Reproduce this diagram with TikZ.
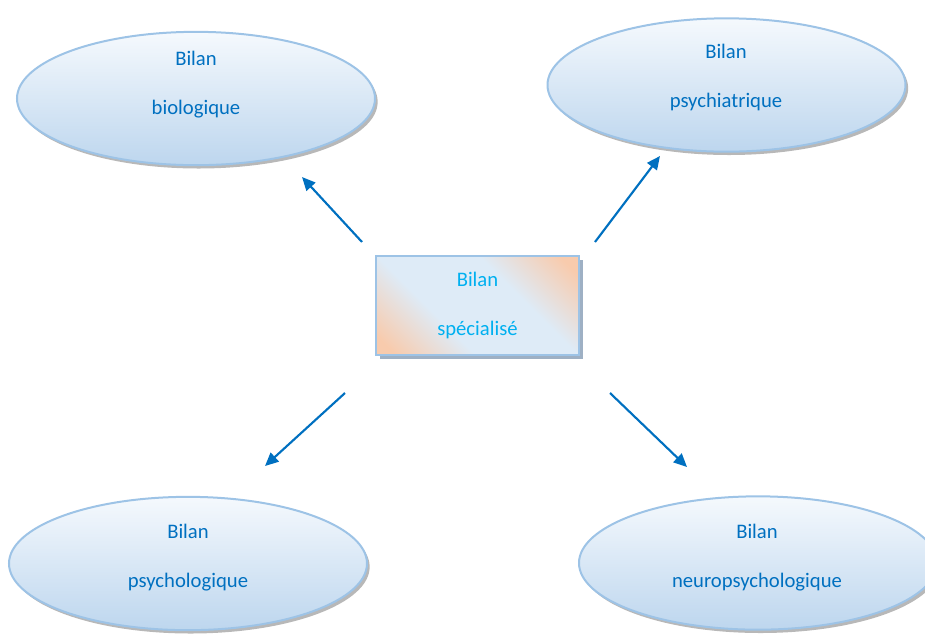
\documentclass[tikz,border=0pt]{standalone}
\usepackage{fontspec}
\setmainfont{Carlito}
\usetikzlibrary{arrows.meta, positioning, shapes.geometric, shadows}

\definecolor{bilanblue}{HTML}{0070C0}
\definecolor{bilancyan}{HTML}{00B0F0}
\definecolor{rimblue}{HTML}{9DC3E6}
\definecolor{paleblue}{HTML}{F5F9FD}
\definecolor{deepblue}{HTML}{BDD6EE}
\definecolor{boxblue}{HTML}{DEEBF7}
\definecolor{peach}{HTML}{F8CBAD}
\definecolor{shadowgrey}{HTML}{93A7BE}

\pgfdeclarehorizontalshading{peachband}{100bp}{
  color(0bp)=(peach); color(19bp)=(peach); color(38bp)=(boxblue);
  color(62bp)=(boxblue); color(81bp)=(peach); color(100bp)=(peach)}

\tikzset{
  bilan/.style={ellipse, draw=rimblue, line width=1.5pt, top color=paleblue,
    bottom color=deepblue, minimum width=268.5pt, minimum height=100pt,
    drop shadow={shadow xshift=2pt, shadow yshift=-2.5pt, fill=gray!70, opacity=0.8}},
  label/.style={align=center, text=bilanblue, font=\fontsize{15.5pt}{36.75pt}\selectfont},
  link/.style={-{Triangle[length=10pt, width=9pt]}, line width=1.6pt, draw=bilanblue}
}

\begin{document}
\begin{tikzpicture}[x=0.75pt, y=-0.75pt]
    \useasboundingbox (0,0) rectangle (925,637);

    % Central box
    \node[draw=rimblue, line width=1.5pt, shading=peachband, shading angle=45,
      minimum width=152pt, minimum height=74pt,
      drop shadow={shadow xshift=3pt, shadow yshift=-3pt, fill=shadowgrey, opacity=0.9}]
      (spec) at (477.5,305.5) {};
    \node[label, text=bilancyan] (spect) at (477.5,305.5) {Bilan\\spécialisé};

    % Ellipses
    \node[bilan] (bio) at (196,98.5) {};
    \node[label] (biot) at (196,84.5) {Bilan\\biologique};

    \node[bilan] (psychia) at (726.5,85) {};
    \node[label] (psychiat) at (726,77) {Bilan\\psychiatrique};

    \node[bilan] (psycho) at (188,563.5) {};
    \node[label] (psychot) at (188,557.5) {Bilan\\psychologique};

    \node[bilan] (neuro) at (758,563) {};
    \node[label] (neurot) at (757,557.5) {Bilan\\neuropsychologique};

    % Arrow ends
    \coordinate (a1) at (362,242);  \coordinate (b1) at (302,177);
    \coordinate (a2) at (595,242);  \coordinate (b2) at (660,156);
    \coordinate (a3) at (345,393);  \coordinate (b3) at (265,466);
    \coordinate (a4) at (610,393);  \coordinate (b4) at (687,467);

    % Arrows
    \draw[link] (a1) -- (b1);
    \draw[link] (a2) -- (b2);
    \draw[link] (a3) -- (b3);
    \draw[link] (a4) -- (b4);
\end{tikzpicture}
\end{document}
